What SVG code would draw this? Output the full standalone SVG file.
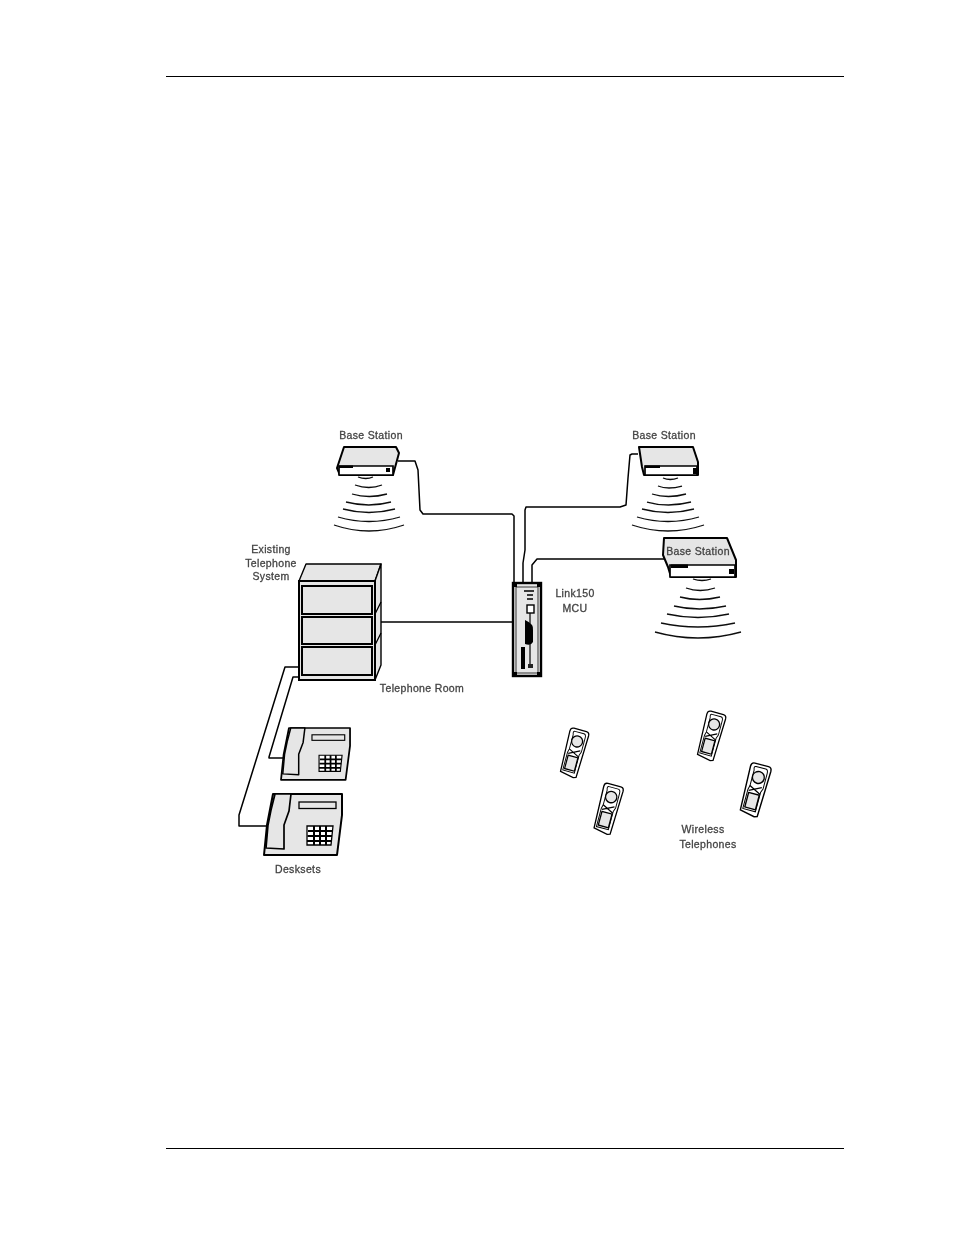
<svg xmlns="http://www.w3.org/2000/svg" xmlns:xlink="http://www.w3.org/1999/xlink" width="954" height="1235" viewBox="0 0 954 1235">
<style>
text{font-family:"Liberation Sans",Arial,sans-serif;font-size:10.5px;fill:#444;text-anchor:middle;letter-spacing:.35px;font-weight:400;stroke:#444;stroke-width:.3}
.ln{fill:none;stroke:#000;stroke-width:1.5;stroke-linejoin:round}
.b{fill:#e6e6e6;stroke:#000;stroke-width:2;stroke-linejoin:round}
.t{fill:#e6e6e6;stroke:#000;stroke-width:1.4;stroke-linejoin:round}
.w{fill:#fff;stroke:#000;stroke-width:1.7}
.wv{fill:none;stroke:#111;stroke-width:1.3}
.k{fill:none;stroke:#000;stroke-width:1.3}
.rule{stroke:#000;stroke-width:1}
</style>
<defs>
<filter id="soft" x="-5%" y="-5%" width="110%" height="110%"><feGaussianBlur stdDeviation="0.35"/></filter>
<g id="handset">
<path class="w" d="M-7-26H7Q10.500-26 10.500-22L9 25L6 26L-9 23L-10.500-22Q-10.500-26-7-26Z" style="stroke-width:1.400"/>
<path class="w" d="M-5-23H5Q7.500-23 7.500-19V-3L6 1V21H-7V1L-6-3V-19Q-7.500-23-5-23Z" style="stroke-width:1"/>
<circle class="t" cx="0" cy="-13" r="6"/>
<path class="k" d="M-6-3L6 3M-6 2L6 -4"/>
<rect class="t" x="-5.500" y="4" width="11" height="15"/>
</g>
<g id="phone">
<path class="b" d="M9 0H78V21L73 61H0L3 31Z"/>
<path class="t" d="M11 0H27L25 17L20 31V55L2 54L4 31L7 16Z" style="stroke-width:1.700"/>
<rect x="35" y="8" width="37" height="6.500" fill="#e6e6e6" stroke="#000" stroke-width="1.300"/>
<path d="M43 32H69L67 51H43Z" fill="#fff" stroke="#000" stroke-width="1.300"/>
<path d="M44 37H68M43.500 42H68M43 47H67M50 32V51M56 32V51M62 32V51" fill="none" stroke="#000" stroke-width="2"/>
</g>
</defs>
<rect width="954" height="1235" fill="#fff"/>
<g id="page-rules">
<line class="rule" x1="166" y1="76.500" x2="844" y2="76.500"/>
<line class="rule" x1="166" y1="1148.500" x2="844" y2="1148.500"/>
</g>
<g filter="url(#soft)">
<g id="connectors">
<path class="ln" d="M398 461H415L418 470L420 510L423 514H512L514 516V582"/>
<path class="ln" d="M523 582V563L525 550V510L526 507H620L626 505L628 478L630 455L632 454H638"/>
<path class="ln" d="M532 582V565L537 559H664"/>
<path class="ln" d="M381 622H512"/>
<path class="ln" d="M299 667H285L239 815V826H267"/>
<path class="ln" d="M299 677H293L269 757V758H283"/>
</g>
<g id="base-station-1">
<path class="b" d="M344 447H396L399 453L393 475H340L337 468Z"/>
<path class="w" d="M339 466H393V475H339Z"/>
<path d="M339 465.500H353V468H339Z" fill="#000"/>
<path d="M386 468h4v4h-4z" fill="#000"/>
<path class="wv" d="M358 477q8 3 15 0M355 485q14 5 27 0M352 494q17 5 35 0M346 502q23 6 45 0M343 509q26 7 52 0M338 517q31 9 62 0M334 525q35 12 70 0"/>
<text x="371" y="439">Base Station</text>
</g>
<g id="base-station-2">
<path class="b" d="M639 447H693L698 462V475H644L642 467Z"/>
<path class="w" d="M645 466H697V475H645Z"/>
<path d="M645 465.500H660V468H645Z" fill="#000"/>
<path d="M693 468h4v6h-4z" fill="#000"/>
<path class="wv" d="M663 478q7 3 15 0M658 486q10 4 24 0M652 494q16 5 34 0M647 502q21 6 44 0M642 509q26 7 52 0M637 517q31 9 62 0M632 525q36 12 72 0"/>
<text x="664" y="439">Base Station</text>
</g>
<g id="base-station-3">
<path class="b" d="M664 538H727L736 560V577H671L668 567L663 555Z"/>
<path class="w" d="M670 565H735V577H670Z"/>
<path d="M671 564.500H688V568H671Z" fill="#000"/>
<path d="M729 569h5v5h-5z" fill="#000"/>
<path class="wv" d="M693 579q9 3 18 0M686 588q14 5 29 0M680 597q19 5 40 0M674 606q25 6 52 0M667 614q31 7 62 0M661 623q37 8 74 0M655 632q43 12 86 0"/>
<text x="698" y="555">Base Station</text>
</g>
<g id="mcu">
<rect x="513" y="583" width="28" height="93" fill="#e6e6e6" stroke="#000" stroke-width="2.400"/>
<rect x="516" y="587" width="22" height="86" fill="#e6e6e6" stroke="#333" stroke-width="1"/>
<path d="M513 583h4v4h-4zM537 583h4v4h-4zM513 672h4v4h-4zM537 672h4v4h-4z" fill="#000"/>
<path d="M524 591H534M527 595H533M527 599H533" stroke="#000" stroke-width="1.600"/>
<rect x="527" y="605" width="7" height="8" fill="#fff" stroke="#000" stroke-width="1.400"/>
<path d="M525 620Q534 624 533 630V642Q531 646 525 644Z" fill="#000"/>
<path d="M530 613V668" stroke="#000" stroke-width="1.200"/>
<rect x="528" y="664" width="5" height="4" fill="#222"/>
<rect x="521" y="647" width="4" height="22" fill="#000"/>
<text x="575" y="597">Link150</text>
<text x="575" y="612">MCU</text>
</g>
<g id="telephone-system">
<path class="t" d="M299 581L306 564H381L375 581Z"/>
<path class="t" d="M375 581L381 564V665L375 680Z"/>
<path class="k" d="M375 614L381 602M375 645L381 633"/>
<rect x="299" y="581" width="76" height="99" fill="#e6e6e6" stroke="#000" stroke-width="2"/>
<rect x="302" y="586" width="70" height="28" fill="#e6e6e6" stroke="#000" stroke-width="2"/>
<rect x="302" y="617" width="70" height="27" fill="#e6e6e6" stroke="#000" stroke-width="2"/>
<rect x="302" y="647" width="70" height="28" fill="#e6e6e6" stroke="#000" stroke-width="2"/>
<text x="271" y="553">Existing</text>
<text x="271" y="567">Telephone</text>
<text x="271" y="580">System</text>
<text x="422" y="692">Telephone Room</text>
</g>
<g id="desksets">
<use xlink:href="#phone" href="#phone" transform="translate(281 728) scale(.885 .85)"/>
<use xlink:href="#phone" href="#phone" transform="translate(264 794)"/>
<text x="298" y="873">Desksets</text>
</g>
<g id="wireless-telephones">
<use xlink:href="#handset" href="#handset" transform="translate(574 753) rotate(15) scale(.92)"/>
<use xlink:href="#handset" href="#handset" transform="translate(608 809) rotate(15) scale(.95)"/>
<use xlink:href="#handset" href="#handset" transform="translate(711 736) rotate(15) scale(.92)"/>
<use xlink:href="#handset" href="#handset" transform="translate(755 790) rotate(15)"/>
<text x="703" y="833">Wireless</text>
<text x="708" y="848">Telephones</text>
</g>
</g>
</svg>
